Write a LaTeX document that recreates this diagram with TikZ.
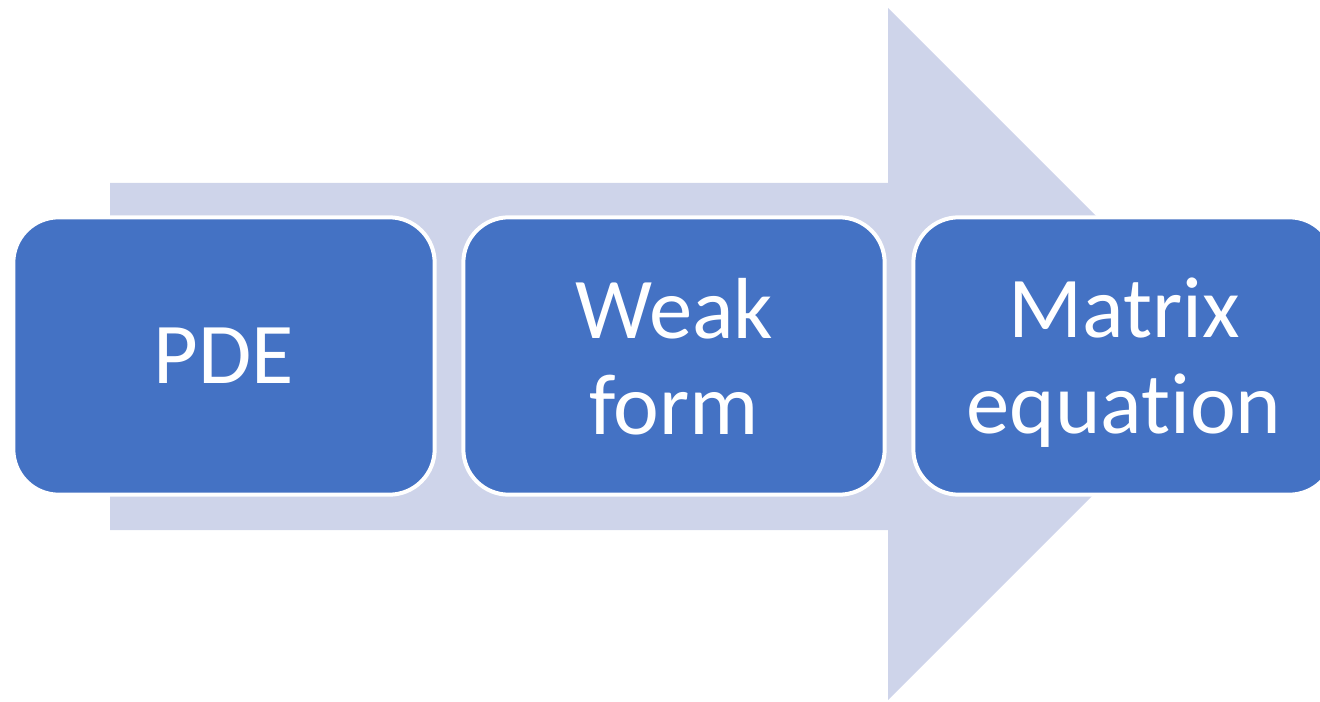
\documentclass[tikz,border=0pt]{standalone}
\usepackage{fontspec}
\setmainfont[Ligatures=NoCommon]{Carlito}
\usetikzlibrary{positioning}
\definecolor{boxblue}{HTML}{4472C4}
\definecolor{arrowgray}{HTML}{CED4EA}

\begin{document}
\begin{tikzpicture}[x=0.75pt, y=-0.75pt,
        stage/.style={draw=white, line width=3pt, fill=boxblue,
            rounded corners=34pt, minimum width=316pt, minimum height=208pt,
            inner sep=0pt, text=white, align=center, text depth=0pt,
            font=\fontsize{65}{72}\selectfont}]
        \useasboundingbox (0, 0) rectangle (1320, 702);

        % big arrow in the back
        \fill[arrowgray]
        (110, 183) -- (888, 183) -- (888, 8) -- (1234, 354)
        -- (888, 700) -- (888, 530) -- (110, 530) -- cycle;

        \node[stage] (pde) at (224, 356) {PDE};
        \node[stage] (weak) at (674, 356) {Weak\\form};
        \node[stage] (matrix) at (1124, 356) {Matrix\\equation};

    \end{tikzpicture}
\end{document}
